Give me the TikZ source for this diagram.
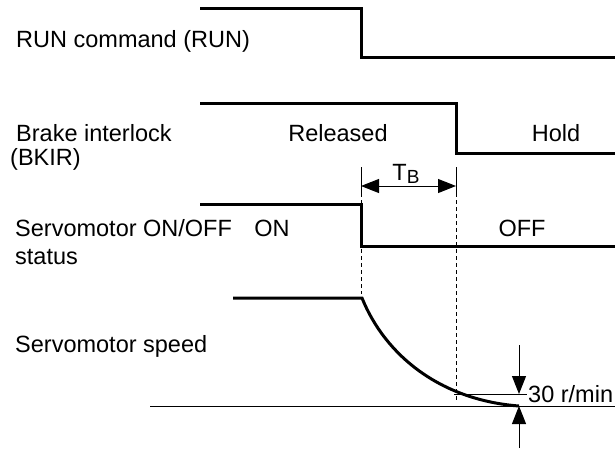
\documentclass[tikz,border=0pt]{standalone}
\usepackage{fontspec}
\setmainfont{Liberation Sans}
\usetikzlibrary{arrows.meta}
\begin{document}
\begin{tikzpicture}[x=1pt,y=-1pt,
  sig/.style={line width=3pt,line join=miter},
  thin/.style={line width=1pt},
  dsh/.style={line width=1pt,dash pattern=on 4pt off 3pt},
  lbl/.style={font=\fontsize{23.5}{27}\selectfont,inner sep=0pt},
  tip/.tip={Triangle[length=18pt,width=14pt]},
  dimarrow/.style={-tip,line width=1pt}]
\useasboundingbox (0,0) rectangle (615,448);
% labels
\node[lbl,anchor=base west] (lrun) at (16,47) {RUN command (RUN)};
\node[lbl,anchor=base west] (lbk1) at (16,141) {Brake interlock};
\node[lbl,anchor=base west] (lbk2) at (10,165) {(BKIR)};
\node[lbl,anchor=base west] (lsv1) at (15,236) {Servomotor ON/OFF};
\node[lbl,anchor=base west] (lsv2) at (15,264) {status};
\node[lbl,anchor=base west] (lsp) at (15,352) {Servomotor speed};
\node[lbl,anchor=base] (rel) at (338,141) {Released};
\node[lbl,anchor=base] (hold) at (556,141) {Hold};
\node[lbl,anchor=base] (on) at (272,236) {ON};
\node[lbl,anchor=base] (off) at (522,236) {OFF};
\node[lbl,anchor=base] (tb) at (406,180) {T\raisebox{-3pt}{\fontsize{19}{21}\selectfont B}};
\node[lbl,anchor=base west] (rpm) at (528,402) {30 r/min};
% coordinates
\coordinate (r0) at (200,8); \coordinate (r1) at (361,8);
\coordinate (r2) at (361,57); \coordinate (r3) at (615,57);
\coordinate (b0) at (200,103); \coordinate (b1) at (456,103);
\coordinate (b2) at (456,153); \coordinate (b3) at (615,153);
\coordinate (s0) at (200,204); \coordinate (s1) at (361,204);
\coordinate (s2) at (361,246); \coordinate (s3) at (615,246);
\coordinate (v0) at (233,298); \coordinate (v1) at (362,298);
\coordinate (v2) at (519,406);
% signals
\draw[sig] (r0) -- (r1) -- (r2) -- (r3);
\draw[sig] (b0) -- (b1) -- (b2) -- (b3);
\draw[sig] (s0) -- (s1) -- (s2) -- (s3);
\draw[sig] (v0) -- (v1) .. controls (385,355) and (440,400) .. (v2);
% TB dimension
\coordinate (e1t) at (361,167); \coordinate (e1b) at (361,193);
\coordinate (e2t) at (456,167); \coordinate (e2b) at (456,193);
\draw[thin] (e1t) -- (e1b);
\draw[thin] (e2t) -- (e2b);
\coordinate (a1) at (361,186); \coordinate (a2) at (456,186);
\draw[tip-tip,line width=1pt] (a1) -- (a2);
% dashed
\draw[dsh] (e1b) -- (361,294);
\draw[dsh] (e2b) -- (456,400);
% axis and 30 r/min
\coordinate (ax0) at (150,406); \coordinate (ax1) at (615,406);
\draw[thin] (ax0) -- (ax1);
\coordinate (l30a) at (454,394); \coordinate (l30b) at (527,394);
\draw[thin] (l30a) -- (l30b);
\coordinate (ud0) at (519,345); \coordinate (ud1) at (519,394);
\coordinate (uu0) at (519,448); \coordinate (uu1) at (519,406);
\draw[dimarrow] (ud0) -- (ud1);
\draw[dimarrow] (uu0) -- (uu1);
\end{tikzpicture}
\end{document}
